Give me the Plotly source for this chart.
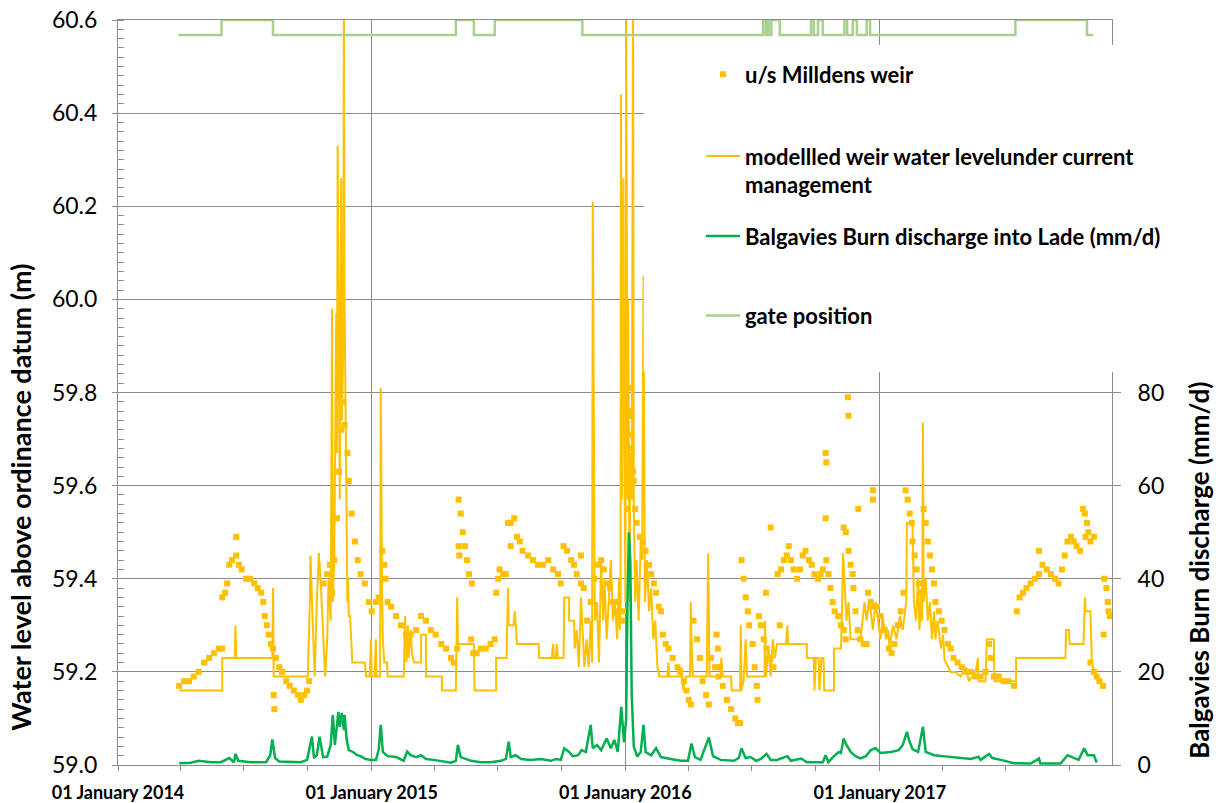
import pandas as pd
import plotly.graph_objects as go

BASE = pd.Timestamp("2014-01-01")

# ---- u/s Milldens weir (observed water level, m) : day offset from 1 Jan 2014
obs_day = [88, 95, 102, 109, 116, 124, 131, 138, 145, 150, 150, 154, 157, 160, 164, 170, 170, 174, 178, 184,
           190, 196, 201, 206, 209, 211, 214, 217, 220, 223, 224, 225, 227, 232, 236, 242, 247, 253, 259, 263,
           268, 272, 275,
           296, 301, 305, 308, 311, 315, 318, 321, 324, 326, 330, 332, 336, 341, 345, 349, 355, 361, 365, 371,
           375, 380, 383, 385, 388, 393, 400, 407, 414, 421, 429, 436, 443, 450, 457, 465, 472, 479, 483, 488,
           490, 490, 491, 493, 496, 499, 502, 505, 509,
           508, 511, 516, 522, 529, 536, 542,
           544, 547, 549, 554, 558, 561, 565, 565, 570, 574, 578, 582, 590, 597, 604, 611, 619, 626, 633, 637,
           641, 646, 652, 656, 660, 666, 666, 670, 675, 680, 685, 690, 695, 699, 703, 708, 712, 716, 721, 725,
           728,
           733, 733, 734, 734, 736, 737, 739, 741, 742, 744, 746, 751, 755, 759, 764, 767, 771, 774, 778, 781,
           784, 788, 792, 798, 805, 809, 814, 818, 821, 824,
           828, 833, 837, 841, 846, 850, 861, 863, 864,
           853, 859, 864, 870, 876, 882, 888, 892, 895,
           897, 900, 903, 906, 908, 913, 916, 919, 920, 922, 925, 929, 932, 933, 939, 939, 943, 952,
           949, 954, 958, 962, 965, 968, 972, 977, 981, 985, 989, 994, 998, 1002, 1007, 1011, 1014,
           1018, 1019, 1018,
           1019, 1022, 1025, 1028, 1031, 1036, 1040, 1044, 1047, 1050, 1051, 1044, 1047, 1051, 1054, 1057, 1058,
           1061, 1064, 1068, 1073, 1077, 1065, 1086, 1086, 1079, 1083, 1087, 1092, 1097, 1103, 1109, 1113, 1117,
           1122, 1126, 1130, 1133, 1136, 1139, 1142, 1143, 1146, 1149, 1152, 1155, 1159, 1162, 1165, 1168, 1171,
           1174, 1176, 1181, 1185, 1189, 1194, 1198, 1202, 1208, 1214, 1220, 1227, 1234, 1241, 1248, 1253, 1256,
           1260, 1267, 1274, 1281, 1289,
           1293, 1297, 1302, 1307, 1313, 1319, 1325, 1325, 1330, 1336, 1342, 1348, 1353, 1358, 1362, 1366, 1371,
           1375, 1379, 1384, 1388, 1391, 1392, 1394, 1396, 1399, 1404,
           1399, 1404, 1408, 1412, 1417, 1418, 1419, 1422, 1424, 1425, 1427]
obs_level = [59.17, 59.18, 59.18, 59.19, 59.20, 59.22, 59.23, 59.24, 59.25, 59.25, 59.36, 59.37, 59.39, 59.43,
             59.44, 59.45, 59.49, 59.43, 59.42, 59.40,
             59.40, 59.39, 59.38, 59.37, 59.35, 59.32, 59.30, 59.28, 59.26, 59.25, 59.15, 59.12, 59.23, 59.21,
             59.20, 59.18, 59.17, 59.16, 59.15, 59.14,
             59.15, 59.16, 59.18,
             59.39, 59.41, 59.43, 59.37, 59.44, 59.53, 59.63, 59.72, 59.78, 59.73, 59.67, 59.61, 59.54, 59.48,
             59.44, 59.41, 59.39, 59.35, 59.33, 59.35,
             59.36, 59.46, 59.43, 59.40, 59.35, 59.34, 59.32, 59.30, 59.28, 59.28, 59.29, 59.32, 59.31, 59.29,
             59.28, 59.26, 59.25, 59.23, 59.22, 59.25,
             59.57, 59.47, 59.45, 59.54, 59.50, 59.47, 59.44, 59.41, 59.39,
             59.27, 59.24, 59.24, 59.25, 59.25, 59.26, 59.27,
             59.37, 59.40, 59.42, 59.41, 59.41, 59.52, 59.52, 59.47, 59.53, 59.49, 59.48, 59.46, 59.45, 59.44,
             59.43, 59.43, 59.44, 59.42, 59.41, 59.39,
             59.47, 59.46, 59.44, 59.43, 59.41, 59.39, 59.45, 59.38, 59.31, 59.35, 59.40, 59.43, 59.44, 59.42,
             59.39, 59.38, 59.35, 59.35, 59.33, 59.31,
             59.33,
             59.55, 59.62, 59.71, 59.75, 59.81, 59.76, 59.68, 59.63, 59.61, 59.55, 59.52, 59.49, 59.48, 59.46,
             59.43, 59.41, 59.39, 59.37, 59.34, 59.33,
             59.28, 59.26, 59.25, 59.23, 59.21, 59.20, 59.18, 59.16, 59.14, 59.13,
             59.31, 59.27, 59.23, 59.18, 59.15, 59.13, 59.28, 59.25, 59.21,
             59.23, 59.21, 59.19, 59.17, 59.14, 59.12, 59.10, 59.09, 59.09,
             59.44, 59.40, 59.36, 59.33, 59.30, 59.26, 59.21, 59.17, 59.14, 59.32, 59.30, 59.27, 59.37, 59.25,
             59.23, 59.51, 59.21, 59.30,
             59.41, 59.42, 59.44, 59.45, 59.47, 59.44, 59.42, 59.40, 59.42, 59.45, 59.46, 59.44, 59.43, 59.41,
             59.40, 59.41, 59.42,
             59.67, 59.65, 59.53,
             59.44, 59.41, 59.38, 59.35, 59.33, 59.32, 59.30, 59.29, 59.27, 59.79, 59.75, 59.51, 59.50, 59.46,
             59.43, 59.41, 59.38,
             59.33, 59.29, 59.27, 59.26, 59.26, 59.55, 59.59, 59.57, 59.37, 59.35, 59.34, 59.34, 59.32, 59.29,
             59.25, 59.24, 59.26,
             59.30, 59.33, 59.37, 59.59, 59.57, 59.54, 59.52, 59.48, 59.45, 59.42, 59.39, 59.37, 59.55, 59.52,
             59.48, 59.45, 59.42,
             59.39, 59.35, 59.33, 59.31, 59.29, 59.26, 59.25, 59.23, 59.22, 59.21, 59.20, 59.20, 59.19, 59.19,
             59.20, 59.26, 59.23,
             59.19, 59.19, 59.18, 59.18, 59.17,
             59.33, 59.36, 59.37, 59.38, 59.39, 59.40, 59.46, 59.41, 59.43, 59.42, 59.41, 59.40, 59.39, 59.42,
             59.45, 59.48, 59.49,
             59.48, 59.47, 59.46, 59.55, 59.54, 59.49, 59.52, 59.50, 59.48, 59.49,
             59.22, 59.20, 59.19, 59.18, 59.17, 59.28, 59.40, 59.38, 59.35, 59.33, 59.32]

# ---- modelled weir water level under current management (m)
mod_day = [88, 150, 150, 168, 169, 170, 222, 223, 224, 273, 276, 277, 280, 283, 286, 289, 292, 295, 298, 301,
           303, 306, 308, 309, 311, 314, 315, 316, 318, 319, 321, 322, 324, 325, 326, 328, 330, 331, 332, 334,
           337, 355, 357, 362, 364, 365, 369, 371, 372, 377, 378, 380, 381, 383, 387, 388, 411, 413, 414, 415,
           417, 418, 421, 423, 426, 436, 436, 443, 443, 466, 466, 486, 488, 489, 512, 512, 513, 544, 544, 559,
           561, 562, 569, 571, 572, 574, 605, 606, 624, 626, 627, 630, 631, 633, 641, 642, 649, 649, 656, 657,
           660, 663, 666, 669, 671, 674, 677, 680, 682, 683, 685, 686, 689, 692, 695, 698, 700, 703, 706, 709,
           712, 715, 718, 721, 722, 723, 723.5, 725, 727, 728, 730, 731, 733, 734, 736, 737, 739, 741, 742, 744,
           746, 749, 752, 754, 756, 758, 761, 764, 767, 770, 773, 776, 779, 790, 792, 793, 810, 811, 813, 817,
           823, 824, 825, 827, 847, 849, 850, 851, 867, 868, 870, 882, 883, 895, 896, 897, 900, 903, 905, 913,
           930, 931, 932, 936, 939, 942, 945, 948, 961, 963, 964, 991, 991, 1001, 1002, 1004, 1008, 1009, 1012,
           1015, 1016, 1030, 1030, 1040, 1041, 1043, 1046, 1048, 1051, 1054, 1068, 1072, 1074, 1077, 1080, 1083,
           1086, 1090, 1093, 1097, 1100, 1105, 1108, 1110, 1115, 1120, 1125, 1129, 1134, 1135, 1143, 1145, 1148,
           1151, 1153, 1156, 1157, 1158, 1159, 1162, 1165, 1168, 1171, 1174, 1176, 1179, 1184, 1187, 1189, 1194,
           1198, 1205, 1212, 1220, 1224, 1234, 1237, 1238, 1248, 1250, 1260, 1261, 1292, 1292, 1363, 1364, 1368,
           1369, 1389, 1391, 1392, 1399, 1401, 1406, 1414, 1419]
mod_level = [59.16, 59.16, 59.23, 59.23, 59.30, 59.23, 59.23, 59.38, 59.19, 59.19, 59.35, 59.45, 59.31, 59.19,
             59.35, 59.455, 59.38, 59.29, 59.19, 59.27,
             59.40, 59.31, 59.98, 59.35, 59.44, 59.97, 59.67, 60.33, 59.78, 59.57, 60.26, 59.74, 59.89, 60.62,
             59.99, 59.57, 59.35, 59.40, 59.32, 59.32,
             59.22, 59.22, 59.19, 59.19, 59.27, 59.19, 59.19, 59.27, 59.19, 59.19, 59.81, 59.35, 59.27, 59.22,
             59.22, 59.19, 59.19, 59.32, 59.27, 59.22,
             59.30, 59.23, 59.29, 59.24, 59.22, 59.22, 59.28, 59.28, 59.19, 59.19, 59.16, 59.16, 59.36, 59.26,
             59.26, 59.23, 59.16, 59.16, 59.23, 59.23,
             59.38, 59.30, 59.30, 59.33, 59.30, 59.26, 59.26, 59.23, 59.23, 59.26, 59.23, 59.23, 59.26, 59.23,
             59.23, 59.36, 59.36, 59.31, 59.31, 59.25,
             59.29, 59.21, 59.36, 59.25, 59.21, 59.27, 59.21, 59.31, 59.22, 60.21, 59.44, 59.31, 59.35, 59.22,
             59.44, 59.31, 59.40, 59.27, 59.35, 59.44,
             59.31, 59.35, 59.27, 59.40, 59.29, 59.35, 60.44, 59.57, 60.26, 59.78, 59.35, 60.62, 59.57, 60.00,
             59.35, 59.67, 59.57, 60.62, 59.57, 59.35,
             59.44, 59.31, 59.48, 59.44, 60.05, 59.35, 59.44, 59.33, 59.38, 59.27, 59.31, 59.21, 59.19, 59.19,
             59.22, 59.19, 59.19, 59.21, 59.16, 59.19,
             59.19, 59.35, 59.27, 59.19, 59.19, 59.455, 59.33, 59.19, 59.19, 59.23, 59.19, 59.19, 59.16, 59.16,
             59.30, 59.16, 59.18, 59.27, 59.19, 59.19,
             59.19, 59.31, 59.19, 59.25, 59.19, 59.27, 59.23, 59.26, 59.26, 59.30, 59.26, 59.26, 59.23, 59.23,
             59.16, 59.23, 59.23, 59.16, 59.23,
             59.23, 59.16, 59.16, 59.25, 59.25, 59.29, 59.455, 59.35, 59.31, 59.35, 59.27, 59.27, 59.33, 59.35,
             59.31, 59.35, 59.33,
             59.29, 59.35, 59.31, 59.27, 59.32, 59.27, 59.29, 59.25, 59.30, 59.27, 59.32, 59.29, 59.35, 59.52,
             59.52, 59.35, 59.31,
             59.40, 59.29, 59.38, 59.31, 59.735, 59.35, 59.40, 59.31, 59.35, 59.27, 59.33, 59.27, 59.31, 59.25,
             59.28, 59.226, 59.21,
             59.20, 59.20, 59.19, 59.21, 59.18, 59.20, 59.23, 59.18, 59.18, 59.27, 59.27, 59.18, 59.18, 59.23,
             59.23, 59.29, 59.29,
             59.26, 59.26, 59.36, 59.33, 59.33, 59.22, 59.19, 59.18, 59.17]

# ---- Balgavies Burn discharge into Lade (mm/d)
q_day = [88, 105, 116, 134, 148, 160, 167, 169, 173, 191, 213, 219, 222, 226, 232, 249, 263, 272, 279, 282,
         286, 290, 295, 301, 306, 309, 312, 317, 319, 322, 325, 326, 329, 332, 338, 344, 349, 356, 364, 371,
         375, 378, 381, 388, 400, 411, 416, 421, 429, 436, 443, 454, 465, 479, 486, 489, 493, 500, 508, 522,
         536, 551, 558, 562, 565, 572, 580, 594, 608, 623, 630, 637, 642, 649, 654, 662, 667, 673, 680, 683,
         689, 695, 703, 709, 714, 719, 724, 728, 731, 733, 735, 737, 739, 742, 747, 752, 756, 759, 767, 774,
         781, 795, 810, 820, 825, 830, 838, 850, 856, 867, 886, 893, 897, 903, 910, 918, 925, 933, 939, 948,
         963, 968, 983, 991, 1004, 1014, 1018, 1022, 1030, 1037, 1040, 1044, 1048, 1054, 1061, 1068, 1076, 1083,
         1090, 1097, 1112, 1123, 1129, 1135, 1138, 1143, 1151, 1158, 1162, 1174, 1193, 1212, 1227, 1238, 1241,
         1253, 1258, 1270, 1289, 1313, 1325, 1327, 1356, 1366, 1373, 1382, 1390, 1395, 1404, 1408]
q_mmd = [0.4, 0.5, 0.9, 0.6, 0.6, 1.5, 0.6, 2.4, 0.9, 0.6, 0.6, 2.1, 5.5, 1.5, 0.75, 0.6, 0.6, 1.1, 6.1, 1.5,
         2.1, 6.1, 1.7, 1.8, 4.3, 10.7, 4.3, 11.4, 8.2, 11.2, 7.5, 10.7, 5.4, 3.2, 2.8, 2.1, 1.9, 1.3, 1.1, 1.1,
         3.2, 8.6, 2.8, 1.9, 1.7, 0.9, 2.9, 2.1, 1.7, 2.1, 1.3, 1.1, 0.9, 0.5, 0.9, 4.3, 1.7, 1.3, 0.9, 0.6,
         0.6, 0.9, 1.3, 5.0, 1.7, 2.1, 1.3, 1.1, 1.3, 0.9, 1.3, 1.1, 3.6, 2.8, 1.9, 2.1, 3.2, 2.8, 8.6, 3.6,
         4.3, 3.2, 5.7, 3.6, 5.4, 2.8, 12.5, 4.9, 9.7, 35.4, 50.0, 44.0, 15.4, 3.9, 1.8, 2.8, 8.6, 2.8, 2.1, 3.6,
         1.7, 1.3, 0.9, 0.9, 4.6, 1.7, 1.1, 5.9, 1.9, 1.1, 0.9, 1.5, 3.6, 1.5, 1.7, 0.9, 1.3, 2.4, 1.1, 1.1,
         1.9, 0.9, 1.4, 0.6, 0.6, 0.6, 2.1, 0.6, 1.9, 2.8, 2.6, 5.7, 4.3, 2.8, 1.9, 1.4, 1.9, 3.2,
         3.6, 2.6, 2.8, 3.2, 4.3, 7.1, 5.4, 3.4, 2.8, 8.2, 2.8, 2.1, 1.8, 1.5, 1.3, 1.8, 1.1,
         2.4, 1.5, 1.1, 0.4, 0.3, 1.4, 0.3, 0.3, 2.1, 1.7, 1.1, 3.6, 2.1, 2.1, 0.5]

# ---- gate position (0 = lowered, 1 = raised), day of change
gate_day = [87, 149, 223, 486, 512, 542, 668, 928, 932, 934, 936, 940, 952, 997, 1001, 1007, 1014, 1045,
            1049, 1057, 1063, 1077, 1082, 1291, 1394, 1403]
gate_state = [0, 1, 0, 1, 0, 1, 0, 1, 0, 1, 0, 1, 0, 1, 0, 1, 0, 1, 0, 1, 0, 1, 0, 1, 0, 0]


def to_dates(days):
    return BASE + pd.to_timedelta(days, unit="D")


ORANGE = "#FFC000"
GREEN = "#00B050"
GATE = "#A9D18E"
GRID = "#8C8C8C"
FONT = "Lato"

fig = go.Figure()
fig.add_trace(go.Scatter(x=to_dates(mod_day), y=mod_level, mode="lines",
                         name="modellled weir water levelunder current<br>management",
                         line=dict(color=ORANGE, width=2), legend="legend", legendgroup="mod",
                         legendrank=2))
fig.add_trace(go.Scatter(x=to_dates(obs_day), y=obs_level, mode="markers", name="u/s Milldens weir",
                         marker=dict(symbol="square", size=6, color=ORANGE), legend="legend",
                         legendgroup="obs", legendrank=1))
fig.add_trace(go.Scatter(x=to_dates(q_day), y=q_mmd, mode="lines", yaxis="y2",
                         name="Balgavies Burn discharge into Lade (mm/d)",
                         line=dict(color=GREEN, width=2.5), legend="legend2", legendgroup="q",
                         legendrank=3))
fig.add_trace(go.Scatter(x=to_dates(gate_day), y=gate_state, mode="lines", yaxis="y3",
                         name="gate position", line=dict(color=GATE, width=2.5, shape="hv"),
                         legend="legend2", legendgroup="gate", legendrank=4))

fig.update_layout(
    width=1216, height=803,
    margin=dict(l=118, r=104, t=20, b=38),
    paper_bgcolor="white", plot_bgcolor="white",
    font=dict(family=FONT, color="black"),
    showlegend=True,
    xaxis=dict(
        type="date", range=["2014-01-01", "2017-12-01"], automargin=False,
        tick0="2014-01-01", dtick="M12", tickformat="%d %B %Y",
        ticks="outside", ticklen=5, tickcolor=GRID, tickwidth=1,
        showline=True, linecolor=GRID, linewidth=1, mirror=True,
        showgrid=True, gridcolor=GRID, gridwidth=1,
        tickfont=dict(family=FONT, size=18, weight="bold", color="black"),
        ticklabelstandoff=6,
        minor=dict(dtick="M3", ticks="outside", ticklen=5, tickcolor=GRID, showgrid=False),
    ),
    yaxis=dict(
        range=[59.0, 60.6], dtick=0.2, tick0=59.0, tickformat=".1f", automargin=False,
        ticks="outside", ticklen=5, tickcolor=GRID,
        showline=True, linecolor=GRID, linewidth=1,
        showgrid=True, gridcolor=GRID, gridwidth=1, zeroline=False,
        tickfont=dict(family=FONT, size=23, color="black"),
        ticklabelstandoff=10,
        minor=dict(dtick=0.02, ticks="inside", ticklen=6, tickcolor=GRID, showgrid=False),
    ),
    yaxis2=dict(
        overlaying="y", side="right", range=[0, 160], automargin=False,
        tickvals=[0, 20, 40, 60, 80],
        ticks="outside", ticklen=8, tickcolor=GRID,
        showline=True, linecolor=GRID, linewidth=1, showgrid=False, zeroline=False,
        tickfont=dict(family=FONT, size=23, color="black"),
        ticklabelstandoff=12,
    ),
    yaxis3=dict(overlaying="y", range=[-48.67, 1], visible=False, automargin=False),
    legend=dict(x=0.5865, xanchor="left", y=0.955, yanchor="top", bgcolor="rgba(0,0,0,0)",
                font=dict(family=FONT, size=22, weight="bold", color="black"),
                itemwidth=34, tracegroupgap=50, valign="top", traceorder="grouped"),
    legend2=dict(x=0.5865, xanchor="left", y=0.738, yanchor="top", bgcolor="rgba(0,0,0,0)",
                 font=dict(family=FONT, size=22, weight="bold", color="black"),
                 itemwidth=34, tracegroupgap=48, valign="top", traceorder="grouped"),
    shapes=[dict(type="rect", xref="paper", yref="paper", x0=0.529, x1=1.075, y0=0.5275, y1=0.9664,
                 fillcolor="white", line=dict(width=0), layer="above")],
    annotations=[
        dict(text="Water level above ordinance datum (m)", xref="paper", yref="paper",
             x=-0.0976, y=0.36, xanchor="center", yanchor="middle", textangle=-90, showarrow=False,
             font=dict(family=FONT, size=27, weight="bold", color="black")),
        dict(text="Balgavies Burn discharge (mm/d)", xref="paper", yref="paper",
             x=1.0875, y=0.262, xanchor="center", yanchor="middle", textangle=-90, showarrow=False,
             font=dict(family=FONT, size=26, weight="bold", color="black")),
    ],
)

fig.write_html("out.html")
